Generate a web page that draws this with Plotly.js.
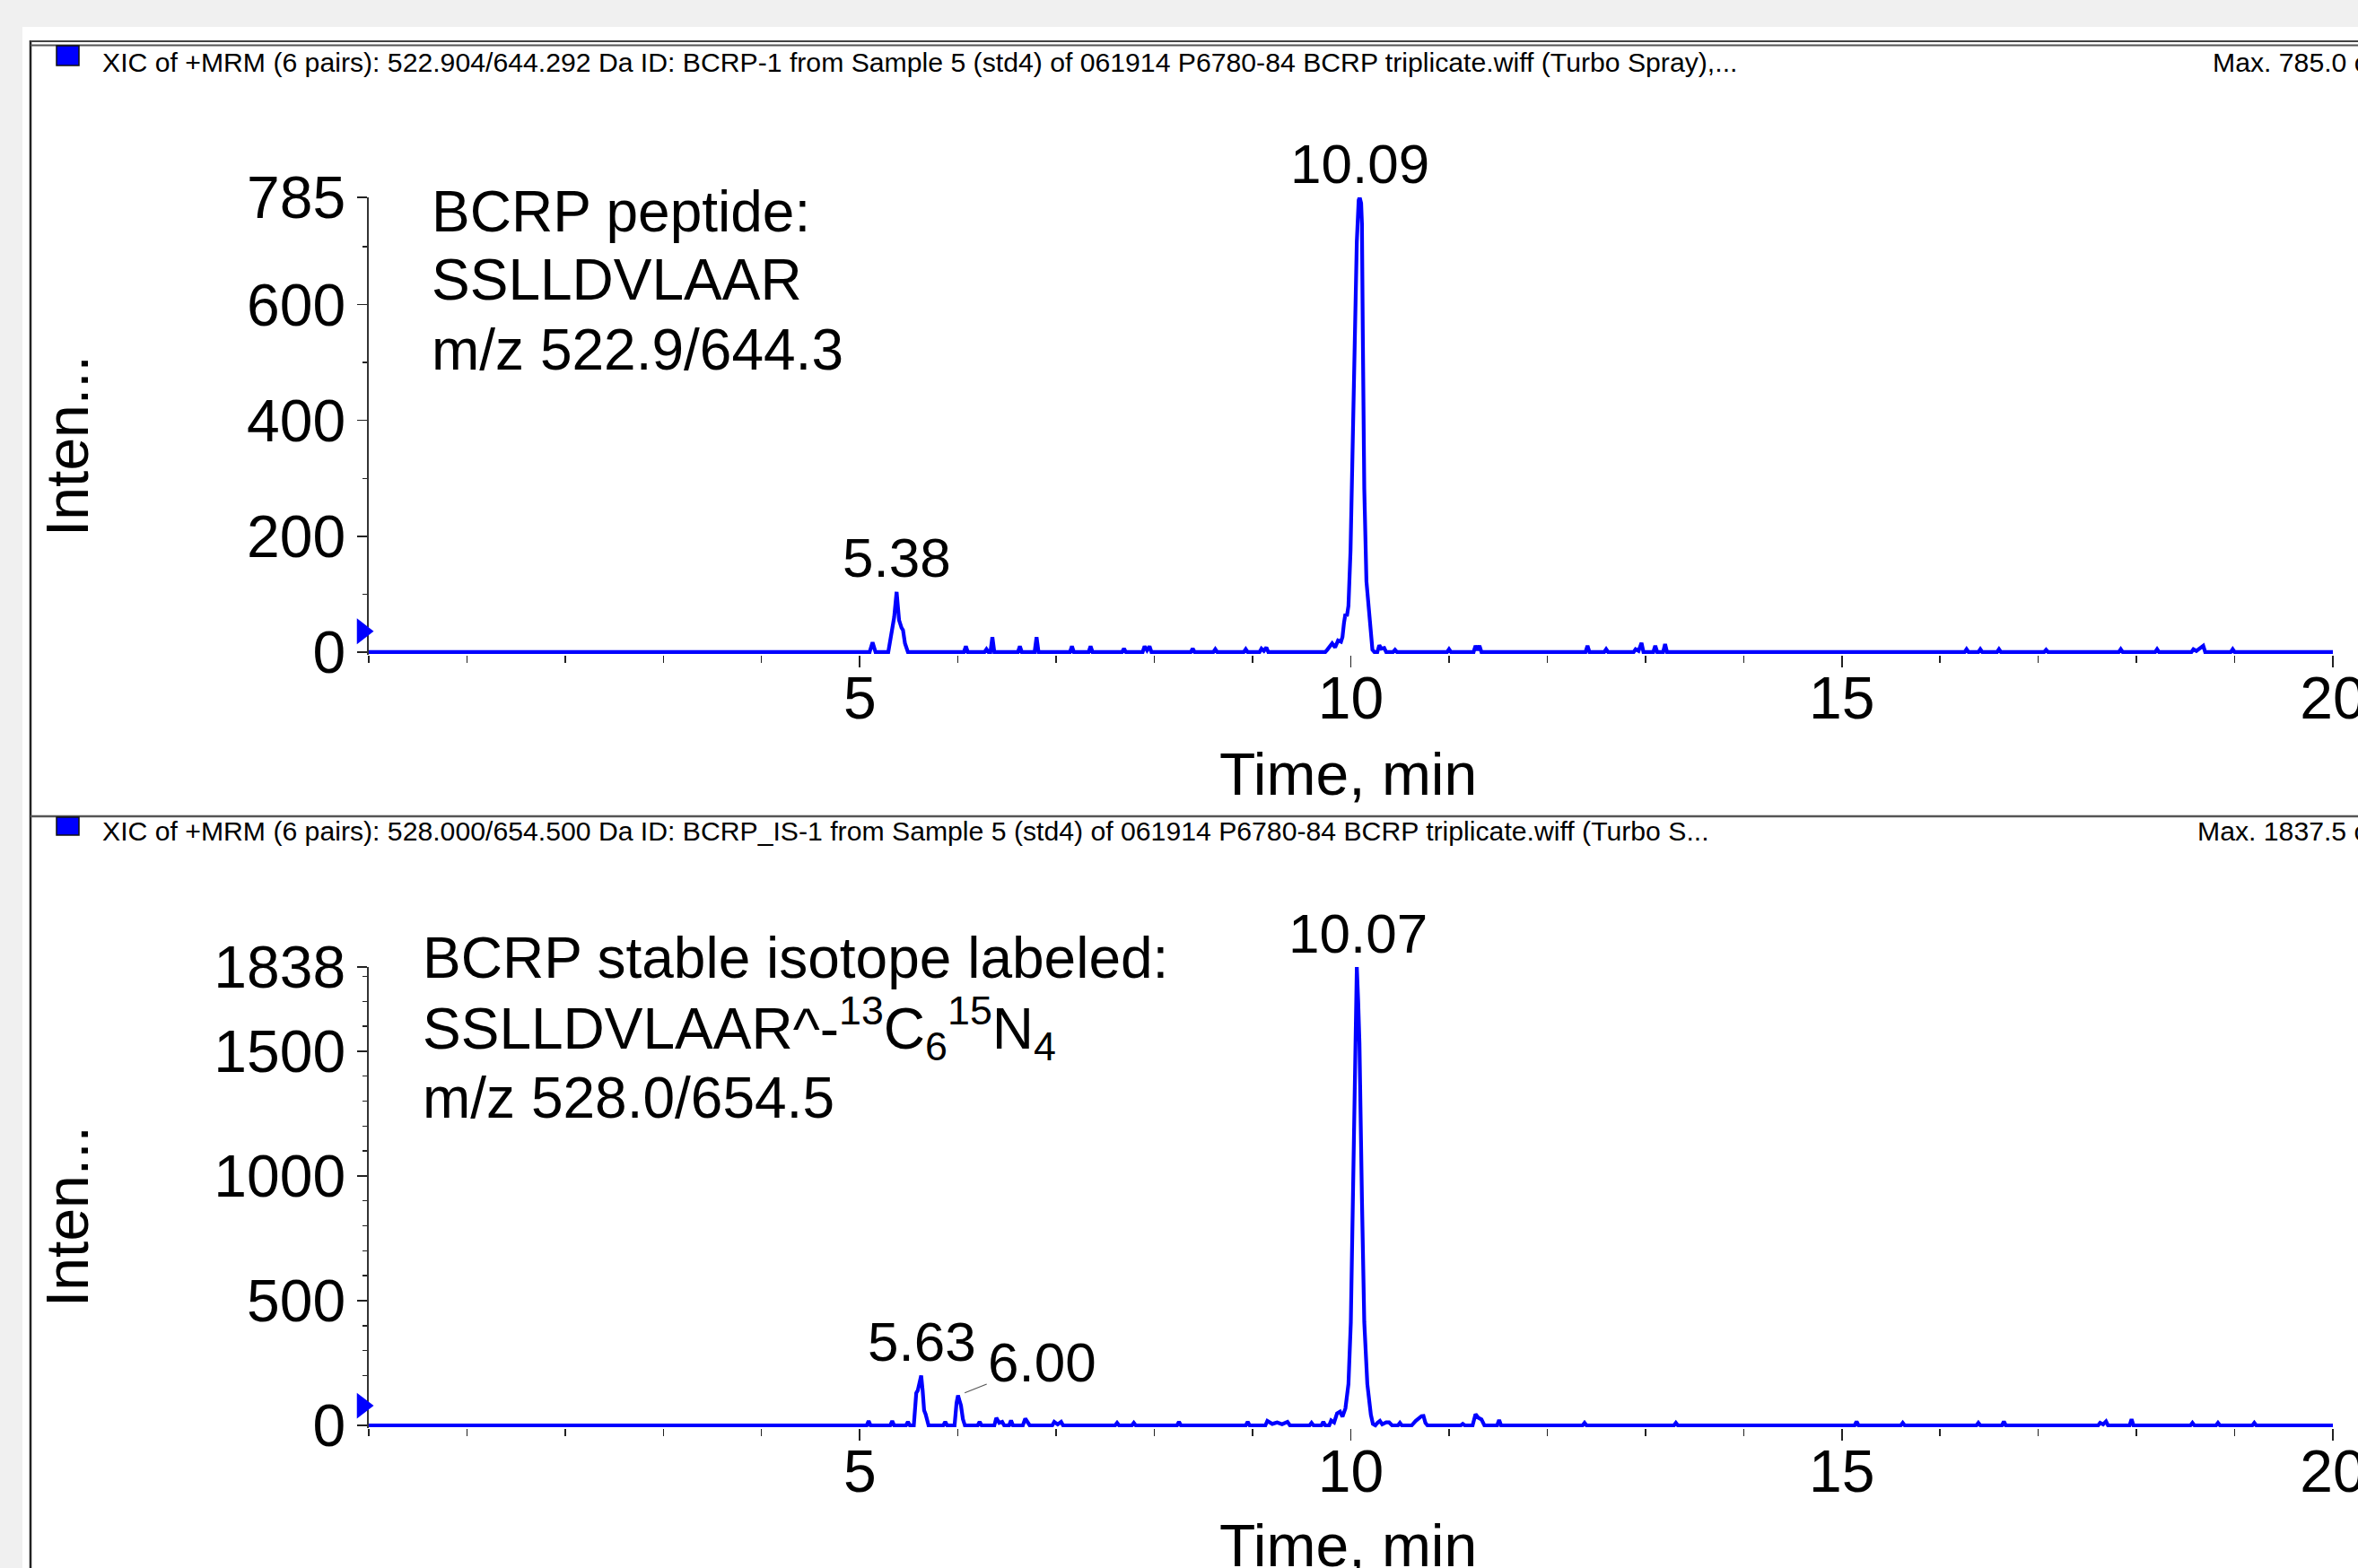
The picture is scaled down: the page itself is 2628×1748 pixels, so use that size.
<!DOCTYPE html>
<html><head><meta charset="utf-8">
<script src="https://cdn.plot.ly/plotly-3.0.1.min.js"></script>
<style>html,body{margin:0;padding:0;background:#fff;overflow:hidden}#plot{width:2628px;height:1748px}</style>
</head><body><div id="plot"></div>
<script>
// ---------- DATA ----------
// Top chromatogram: BCRP peptide (time, min / intensity, cps)
const topTime = [0,5.10,5.13,5.16,
 5.29,5.31,5.33,5.35,5.375,5.40,5.425,5.44,5.46,5.49,
 6.06,6.08,6.10, 6.27,6.29,6.31, 6.33,6.35,6.37, 6.61,6.63,6.65, 6.78,6.80,6.82,
 7.14,7.16,7.18, 7.33,7.35,7.37, 7.67,7.69,7.71, 7.88,7.90,7.925,7.95,7.97,
 8.37,8.39,8.41, 8.60,8.62,8.64, 8.91,8.93,8.95, 9.07,9.09,9.115,9.14,9.16,
 9.74,9.76,9.79,9.81,9.84,9.87,9.90,9.915,9.93,9.945,9.96,9.976,9.997,10.015,10.037,10.061,10.08,10.09,10.105,10.113,10.122,10.137,10.159,10.189,10.22,10.24,
 10.27,10.29,10.31,10.34,10.36, 10.43,10.45,10.47,
 10.98,11.00,11.02, 11.25,11.27,11.29,11.31,11.33,
 12.39,12.41,12.43, 12.58,12.60,12.62, 12.88,12.90,12.93,12.96,12.98, 13.08,13.10,13.12, 13.18,13.20,13.22,
 16.25,16.27,16.29, 16.39,16.41,16.43, 16.58,16.60,16.62, 17.06,17.08,17.10,
 17.82,17.84,17.86, 18.19,18.21,18.23, 18.56,18.58,18.61,18.68,18.70, 18.96,18.98,19.00, 20];
const topInt = [0,0,17,0,
 0,20,48,60,104,55,42,38,15,0,
 0,10,0, 0,5,0, 0,26,0, 0,10,0, 0,26,0,
 0,10,0, 0,10,0, 0,6,0, 0,10,3,10,0,
 0,6,0, 0,5,0, 0,5,0, 0,6,2,8,0,
 0,4,12,15,8,20,18,26,50,66,62,80,175,336,550,709,780,785,775,740,550,282,122,57,4,0,
 0,12,6,7,0, 0,4,0,
 0,5,0, 0,11,3,11,0,
 0,11,0, 0,5,0, 0,5,2,16,0, 0,11,0, 0,14,0,
 0,5,0, 0,5,0, 0,5,0, 0,4,0,
 0,5,0, 0,5,0, 0,5,2,11,0, 0,5,0, 0];

// Bottom chromatogram: BCRP stable isotope labeled
const botTime = [0,5.07,5.09,5.11, 5.31,5.33,5.35, 5.47,5.49,5.51,
 5.55,5.575,5.59,5.61,5.625,5.64,5.655,5.67,5.69,5.70,
 5.85,5.87,5.89, 5.965,5.985,6.00,6.015,6.03,6.05,6.07,
 6.20,6.22,6.24, 6.37,6.39,6.42,6.45,6.47, 6.52,6.54,6.56, 6.66,6.685,6.71,6.73,
 6.96,6.98,7.015,7.05,7.07, 7.60,7.62,7.64, 7.77,7.79,7.81, 8.23,8.25,8.27,
 8.93,8.95,8.97, 9.13,9.15,9.20,9.25,9.30,9.355,9.38, 9.58,9.60,9.62, 9.70,9.72,9.74,
 9.78,9.80,9.83,9.86,9.89,9.915,9.945,9.976,10.00,10.021,10.043,10.061,10.075,10.088,10.113,10.137,10.168,10.19,10.204,10.225,10.25,
 10.27,10.296,10.32,10.36,10.39,10.42, 10.48,10.50,10.52,
 10.62,10.66,10.70,10.72,10.74,10.76,10.78,
 11.12,11.14,11.16, 11.24,11.27,11.30,11.33,11.36, 11.49,11.51,11.53,
 12.36,12.38,12.40, 13.29,13.31,13.33, 15.13,15.15,15.17, 15.60,15.62,15.64,
 16.37,16.39,16.41, 16.63,16.65,16.67, 17.61,17.63,17.66,17.69,17.71, 17.93,17.95,17.97,
 18.55,18.57,18.59, 18.81,18.83,18.85, 19.18,19.20,19.22, 20];
const botInt = [0,0,18,0, 0,18,0, 0,14,0,
 0,130,140,175,200,140,60,45,10,0,
 0,14,0, 0,90,120,100,80,25,0,
 0,14,0, 0,30,10,14,0, 0,20,0, 0,27,14,0,
 0,14,4,14,0, 0,10,0, 0,10,0, 0,14,0,
 0,14,0, 0,18,6,12,5,14,0, 0,10,0, 0,14,0,
 0,20,12,48,55,35,68,166,414,910,1531,1838,1700,1531,910,414,166,70,43,6,0,
 10,18,4,12,12,0, 0,10,0,
 0,18,30,37,38,10,0,
 0,6,0, 0,45,30,24,0, 0,22,0,
 0,10,0, 0,10,0, 0,16,0, 0,10,0,
 0,10,0, 0,16,0, 0,10,4,16,0, 0,25,0,
 0,10,0, 0,10,0, 0,10,0, 0];

const topPeakTimes = [5.38, 10.09];
const topPeakHeights = [104, 785];
const botPeakTimes = [5.63, 6.00, 10.07];
const botPeakHeights = [200, 120, 1838];
const topThreshold = [36];
const botThreshold = [79];

const xTickVals = [5, 10, 15, 20];
const topYTicks = [0, 200, 400, 600, 785];
const botYTicks = [0, 500, 1000, 1500, 1838];

const topHeader = "XIC of +MRM (6 pairs): 522.904/644.292 Da ID: BCRP-1 from Sample 5 (std4) of 061914 P6780-84 BCRP triplicate.wiff (Turbo Spray),...";
const topMax = "Max. 785.0 cps.";
const botHeader = "XIC of +MRM (6 pairs): 528.000/654.500 Da ID: BCRP_IS-1 from Sample 5 (std4) of 061914 P6780-84 BCRP triplicate.wiff (Turbo S...";
const botMax = "Max. 1837.5 cps.";
const topText = ["BCRP peptide:", "SSLLDVLAAR", "m/z 522.9/644.3"];
const botText = ["BCRP stable isotope labeled:", "SSLLDVLAAR^-<sup>13</sup>C<sub>6</sub><sup>15</sup>N<sub>4</sub>", "m/z 528.0/654.5"];

// ---------- LAYOUT HELPERS ----------
const W = 2628, H = 1748;
const px = v => v / W;
const py = v => 1 - v / H;
const FONT = "Liberation Sans, Arial, sans-serif";
const BLUE = "#0000ff";

const traceLine = (x, y, xa, ya) => ({
  x, y, xaxis: xa, yaxis: ya, type: "scatter", mode: "lines",
  line: {color: BLUE, width: 4.2, shape: "linear"}, hoverinfo: "skip"
});
const traceThr = (y, xa, ya) => ({
  x: y.map(() => 0.5), y, xaxis: xa, yaxis: ya, type: "scatter", mode: "markers",
  marker: {symbol: "triangle-right", size: 25, color: BLUE}, cliponaxis: false, hoverinfo: "skip"
});

const data = [
  traceLine(topTime, topInt, "x", "y"),
  traceLine(botTime, botInt, "x2", "y2"),
  traceThr(topThreshold, "x3", "y"),
  traceThr(botThreshold, "x4", "y2")
];

const xDomain = [px(411), px(2600)];
const xaxisBase = (anchor) => ({
  domain: xDomain, anchor, range: [0, 20], showline: false, zeroline: false, showgrid: false,
  tickmode: "array", tickvals: xTickVals, ticktext: xTickVals.map(String),
  ticks: "outside", ticklen: 13, tickwidth: 1.6, tickcolor: "#222",
  ticklabeloverflow: "allow", ticklabelstandoff: -22,
  tickfont: {family: FONT, size: 66, color: "#000"},
  minor: {tickmode: "linear", tick0: 0, dtick: 1, ticks: "outside", ticklen: 8, tickwidth: 1.4, tickcolor: "#222", showgrid: false}
});
const markerAxis = (anchor) => ({
  domain: [px(394), px(414)], anchor, range: [0, 1], visible: false, fixedrange: true
});
const yaxisBase = (anchor, domain, range, tv, mdt) => ({
  domain, anchor, range, showline: true, linecolor: "#333", linewidth: 1.6,
  zeroline: false, showgrid: false,
  tickmode: "array", tickvals: tv, ticktext: tv.map(String),
  ticks: "outside", ticklen: 11, tickwidth: 1.6, tickcolor: "#222",
  tickfont: {family: FONT, size: 66, color: "#000"},
  minor: {tickmode: "linear", tick0: 0, dtick: mdt, ticks: "outside", ticklen: 5, tickwidth: 1.4, tickcolor: "#222", showgrid: false}
});

const shapes = [
  // grey window background
  {type: "rect", xref: "paper", yref: "paper", x0: 0, x1: px(25), y0: 0, y1: 1, fillcolor: "#f0f0f0", line: {width: 0}, layer: "below"},
  {type: "rect", xref: "paper", yref: "paper", x0: 0, x1: 1, y0: py(30), y1: 1, fillcolor: "#f0f0f0", line: {width: 0}, layer: "below"},
  // left frame line
  {type: "line", xref: "paper", yref: "paper", x0: px(34), x1: px(34), y0: 0, y1: py(45), line: {color: "#222", width: 2.5}},
  // top double line
  {type: "line", xref: "paper", yref: "paper", x0: px(34), x1: 1, y0: py(46), y1: py(46), line: {color: "#444", width: 2}},
  {type: "line", xref: "paper", yref: "paper", x0: px(34), x1: 1, y0: py(50.5), y1: py(50.5), line: {color: "#555", width: 2}},
  // middle separator
  {type: "line", xref: "paper", yref: "paper", x0: px(34), x1: 1, y0: py(910), y1: py(910), line: {color: "#555", width: 2.5}},
  // legend squares
  {type: "rect", xref: "paper", yref: "paper", x0: px(63), x1: px(88), y0: py(73), y1: py(51), fillcolor: BLUE, line: {color: "#111", width: 1.5}},
  {type: "rect", xref: "paper", yref: "paper", x0: px(63), x1: px(88), y0: py(931), y1: py(911), fillcolor: BLUE, line: {color: "#111", width: 1.5}}
];

const ann = [];
const addText = (text, x, y, size, opts = {}) => ann.push(Object.assign({
  text, xref: "paper", yref: "paper", x: px(x), y: py(y), showarrow: false,
  xanchor: "left", yanchor: "middle", font: {family: FONT, size, color: "#000"}
}, opts));

// headers
addText(topHeader, 112, 69, 30.2);
addText(topMax, 2464, 69, 30.2);
addText(botHeader, 112, 926, 30.2);
addText(botMax, 2447, 926, 30.2);

// panel texts
const topLinesY = [236, 312, 390];
topText.forEach((t, i) => addText(t, 479, topLinesY[i], 64));
const botLinesY = [1068, 1146, 1224];
botText.forEach((t, i) => addText(t, 469, botLinesY[i], 64));

// axis titles
addText("Time, min", 1503, 863, 66, {xanchor: "center"});
addText("Time, min", 1503, 1723, 66, {xanchor: "center"});
addText("Inten...", 75, 497, 66, {xanchor: "center", textangle: -90});
addText("Inten...", 75, 1356, 66, {xanchor: "center", textangle: -90});

// peak labels
const peakAnn = (t, h, xr, yr, extra = {}) => Object.assign({
  text: t.toFixed(2), x: t, y: h, xref: xr, yref: yr, showarrow: false,
  xanchor: "center", yanchor: "middle", yshift: 38,
  font: {family: FONT, size: 62, color: "#000"}
}, extra);
topPeakTimes.forEach((t, i) => ann.push(peakAnn(t, topPeakHeights[i], "x", "y")));
botPeakTimes.forEach((t, i) => {
  if (i === 1) {
    ann.push(peakAnn(t, botPeakHeights[i], "x2", "y2", {
      yshift: 0, showarrow: true, arrowhead: 0, arrowwidth: 1.2, arrowcolor: "#555",
      ax: 94, ay: -37, standoff: 8
    }));
  } else {
    ann.push(peakAnn(t, botPeakHeights[i], "x2", "y2"));
  }
});

const layout = {
  width: W, height: H, margin: {l: 0, r: 0, t: 0, b: 0, pad: 0},
  paper_bgcolor: "#ffffff", plot_bgcolor: "rgba(0,0,0,0)", showlegend: false,
  xaxis: xaxisBase("y"),
  yaxis: yaxisBase("x", [py(730.2), py(220)], [-5, 785], topYTicks, 100),
  xaxis2: xaxisBase("y2"),
  yaxis2: yaxisBase("x2", [py(1591.8), py(1078)], [-10, 1838], botYTicks, 100),
  xaxis3: markerAxis("y"),
  xaxis4: markerAxis("y2"),
  shapes, annotations: ann
};

Plotly.newPlot("plot", data, layout, {staticPlot: true});
</script></body></html>
